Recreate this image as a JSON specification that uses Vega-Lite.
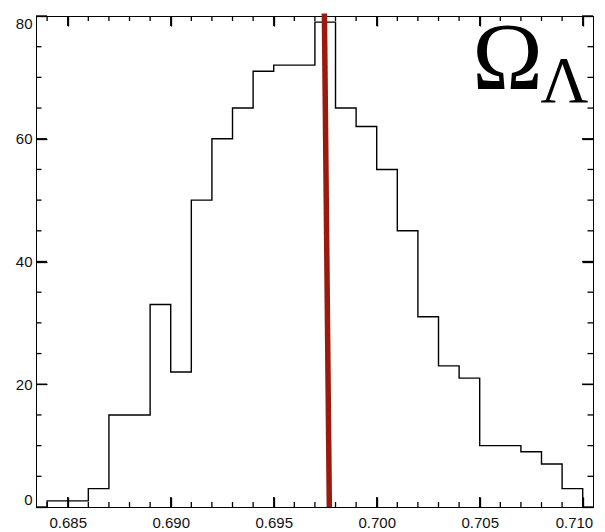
{
  "$schema": "https://vega.github.io/schema/vega-lite/v6.json",
  "width": 557,
  "height": 491,
  "padding": {"left": 36, "top": 16, "right": 12, "bottom": 25},
  "autosize": {"type": "none"},
  "background": "white",
  "config": {
    "view": {"stroke": "black", "strokeWidth": 1},
    "axis": {
      "domainColor": "black",
      "tickColor": "black",
      "tickWidth": 1.3,
      "ticks": true,
      "zindex": 1,
      "labelColor": "#111",
      "labelFont": "Liberation Sans",
      "labelFontSize": 15,
      "grid": false,
      "title": null
    }
  },
  "datasets": {
    "hist": [
      {"i": 0, "edge": 0.684, "count": 0},
      {"i": 1, "edge": 0.684, "count": 1},
      {"i": 2, "edge": 0.686, "count": 3},
      {"i": 3, "edge": 0.687, "count": 15},
      {"i": 4, "edge": 0.689, "count": 33},
      {"i": 5, "edge": 0.690, "count": 22},
      {"i": 6, "edge": 0.691, "count": 50},
      {"i": 7, "edge": 0.692, "count": 60},
      {"i": 8, "edge": 0.693, "count": 65},
      {"i": 9, "edge": 0.694, "count": 71},
      {"i": 10, "edge": 0.695, "count": 72},
      {"i": 11, "edge": 0.697, "count": 79},
      {"i": 12, "edge": 0.698, "count": 65},
      {"i": 13, "edge": 0.699, "count": 62},
      {"i": 14, "edge": 0.700, "count": 55},
      {"i": 15, "edge": 0.701, "count": 45},
      {"i": 16, "edge": 0.702, "count": 31},
      {"i": 17, "edge": 0.703, "count": 23},
      {"i": 18, "edge": 0.704, "count": 21},
      {"i": 19, "edge": 0.705, "count": 10},
      {"i": 20, "edge": 0.707, "count": 9},
      {"i": 21, "edge": 0.708, "count": 7},
      {"i": 22, "edge": 0.709, "count": 3},
      {"i": 23, "edge": 0.710, "count": 0}
    ],
    "marker": [
      {"x": 0.69746, "y": 80.4, "x2": 0.6977, "y2": 0}
    ],
    "labels": [
      {"text": "Ω", "x": 0.70635, "y": 68.1, "size": "big"},
      {"text": "Λ", "x": 0.70911, "y": 65.95, "size": "small"}
    ],
    "xmajor": [{"v": 0.685}, {"v": 0.690}, {"v": 0.695}, {"v": 0.700}, {"v": 0.705}, {"v": 0.710}],
    "xminor": [{"v": 0.684}, {"v": 0.686}, {"v": 0.687}, {"v": 0.688}, {"v": 0.689}, {"v": 0.691}, {"v": 0.692}, {"v": 0.693}, {"v": 0.694}, {"v": 0.696}, {"v": 0.697}, {"v": 0.698}, {"v": 0.699}, {"v": 0.701}, {"v": 0.702}, {"v": 0.703}, {"v": 0.704}, {"v": 0.706}, {"v": 0.707}, {"v": 0.708}, {"v": 0.709}],
    "ymajor": [{"v": 0}, {"v": 20}, {"v": 40}, {"v": 60}, {"v": 80}],
    "yminor": [{"v": 5}, {"v": 10}, {"v": 15}, {"v": 25}, {"v": 30}, {"v": 35}, {"v": 45}, {"v": 50}, {"v": 55}, {"v": 65}, {"v": 70}, {"v": 75}]
  },
  "resolve": {"axis": {"x": "independent", "y": "independent"}},
  "layer": [
    {
      "data": {"name": "hist"},
      "mark": {"type": "line", "interpolate": "step-after", "color": "black", "strokeWidth": 1.4},
      "encoding": {
        "x": {
          "field": "edge", "type": "quantitative",
          "scale": {"domain": [0.68346, 0.7105], "nice": false, "zero": false},
          "axis": {
            "orient": "bottom",
            "values": [0.685, 0.690, 0.695, 0.700, 0.705, 0.710],
            "format": ".3f",
            "tickSize": -10,
            "labelPadding": 18,
            "labelFlush": 12,
            "labelFlushOffset": 10
          }
        },
        "y": {
          "field": "count", "type": "quantitative",
          "scale": {"domain": [0, 80], "nice": false},
          "axis": {
            "orient": "left",
            "values": [0, 20, 40, 60, 80],
            "format": "d",
            "tickSize": -11,
            "labelPadding": 15,
            "labelFlush": true
          }
        },
        "order": {"field": "i", "type": "quantitative"}
      }
    },
    {
      "data": {"name": "marker"},
      "mark": {"type": "rule", "color": "#9a1a0e", "strokeWidth": 5.5},
      "encoding": {
        "x": {
          "field": "x", "type": "quantitative",
          "axis": {"orient": "top", "values": [0.685, 0.690, 0.695, 0.700, 0.705, 0.710], "labels": false, "tickSize": -10}
        },
        "x2": {"field": "x2"},
        "y": {
          "field": "y", "type": "quantitative",
          "axis": {"orient": "right", "values": [0, 20, 40, 60, 80], "labels": false, "tickSize": -11}
        },
        "y2": {"field": "y2"}
      }
    },
    {
      "data": {"name": "labels"},
      "mark": {"type": "text", "font": "Liberation Serif", "align": "center", "baseline": "alphabetic", "color": "black"},
      "encoding": {
        "x": {"field": "x", "type": "quantitative", "axis": null},
        "y": {"field": "y", "type": "quantitative", "axis": null},
        "text": {"field": "text"},
        "size": {"field": "size", "type": "nominal", "scale": {"domain": ["big", "small"], "range": [95, 66]}, "legend": null}
      }
    },
    {
      "data": {"name": "xmajor"},
      "mark": {"type": "tick", "orient": "vertical", "size": 10, "thickness": 1.3, "color": "black", "opacity": 1, "yOffset": -5},
      "encoding": {"x": {"field": "v", "type": "quantitative", "axis": null}, "y": {"datum": 0, "type": "quantitative", "axis": null}}
    },
    {
      "data": {"name": "xmajor"},
      "mark": {"type": "tick", "orient": "vertical", "size": 10, "thickness": 1.3, "color": "black", "opacity": 1, "yOffset": 5},
      "encoding": {"x": {"field": "v", "type": "quantitative", "axis": null}, "y": {"datum": 80, "type": "quantitative", "axis": null}}
    },
    {
      "data": {"name": "xminor"},
      "mark": {"type": "tick", "orient": "vertical", "size": 5, "thickness": 1.3, "color": "black", "opacity": 1, "yOffset": -2.5},
      "encoding": {"x": {"field": "v", "type": "quantitative", "axis": null}, "y": {"datum": 0, "type": "quantitative", "axis": null}}
    },
    {
      "data": {"name": "xminor"},
      "mark": {"type": "tick", "orient": "vertical", "size": 5, "thickness": 1.3, "color": "black", "opacity": 1, "yOffset": 2.5},
      "encoding": {"x": {"field": "v", "type": "quantitative", "axis": null}, "y": {"datum": 80, "type": "quantitative", "axis": null}}
    },
    {
      "data": {"name": "ymajor"},
      "mark": {"type": "tick", "orient": "horizontal", "size": 11, "thickness": 1.3, "color": "black", "opacity": 1, "xOffset": 5.5},
      "encoding": {"y": {"field": "v", "type": "quantitative", "axis": null}, "x": {"datum": 0.68346, "type": "quantitative", "axis": null}}
    },
    {
      "data": {"name": "ymajor"},
      "mark": {"type": "tick", "orient": "horizontal", "size": 11, "thickness": 1.3, "color": "black", "opacity": 1, "xOffset": -5.5},
      "encoding": {"y": {"field": "v", "type": "quantitative", "axis": null}, "x": {"datum": 0.7105, "type": "quantitative", "axis": null}}
    },
    {
      "data": {"name": "yminor"},
      "mark": {"type": "tick", "orient": "horizontal", "size": 5.5, "thickness": 1.3, "color": "black", "opacity": 1, "xOffset": 2.75},
      "encoding": {"y": {"field": "v", "type": "quantitative", "axis": null}, "x": {"datum": 0.68346, "type": "quantitative", "axis": null}}
    },
    {
      "data": {"name": "yminor"},
      "mark": {"type": "tick", "orient": "horizontal", "size": 5.5, "thickness": 1.3, "color": "black", "opacity": 1, "xOffset": -2.75},
      "encoding": {"y": {"field": "v", "type": "quantitative", "axis": null}, "x": {"datum": 0.7105, "type": "quantitative", "axis": null}}
    }
  ]
}
